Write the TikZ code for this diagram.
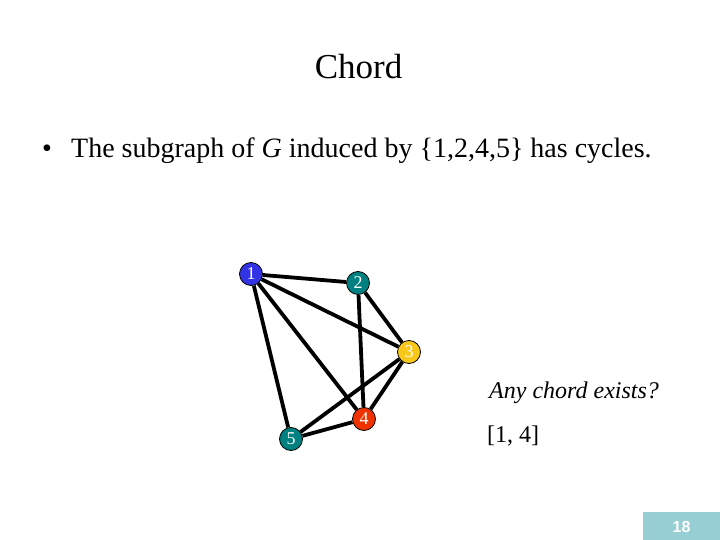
\documentclass[tikz,border=0pt]{standalone}
\usepackage{fontspec}
\setmainfont{Liberation Serif}
\setsansfont{Liberation Sans}
\definecolor{nblue}{RGB}{51,51,230}
\definecolor{nteal}{RGB}{0,128,128}
\definecolor{ngold}{RGB}{247,200,26}
\definecolor{nred}{RGB}{238,51,0}
\definecolor{pagebox}{RGB}{150,206,212}
\tikzset{
  vtx/.style={circle, draw=black, line width=0.8pt, minimum size=23pt, inner sep=0pt, text=white, font=\fontsize{18}{18}\selectfont},
  edge/.style={line width=3.8pt, black},
}
\begin{document}
\begin{tikzpicture}[x=1pt,y=-1pt]
\useasboundingbox[fill=white] (0,0) rectangle (720,540);
\node[anchor=base, font=\fontsize{35}{35}\selectfont] (title) at (358.5,79) {Chord};
\node[anchor=base west, font=\fontsize{28}{28}\selectfont, inner sep=0pt] (bul) at (42,158) {•};
\node[anchor=base west, font=\fontsize{28}{28}\selectfont, inner sep=0pt] (txt) at (71,158) {The subgraph of \textit{G} induced by \{1,2,4,5\} has cycles.};
\node[vtx, fill=nblue] (n1) at (251,274) {1};
\node[vtx, fill=nteal] (n2) at (358,283) {2};
\node[vtx, fill=ngold] (n3) at (409,352) {3};
\node[vtx, fill=nred] (n4) at (364,419) {4};
\node[vtx, fill=nteal] (n5) at (291,439) {5};
\draw[edge] (n1) -- (n2);
\draw[edge] (n1) -- (n3);
\draw[edge] (n1) -- (n4);
\draw[edge] (n1) -- (n5);
\draw[edge] (n2) -- (n3);
\draw[edge] (n2) -- (n4);
\draw[edge] (n3) -- (n4);
\draw[edge] (n3) -- (n5);
\draw[edge] (n4) -- (n5);
\node[anchor=base west, font=\itshape\fontsize{24}{24}\selectfont, inner sep=0pt] (q) at (489,398) {Any chord exists?};
\node[anchor=base west, font=\fontsize{24}{24}\selectfont, inner sep=0pt] (a) at (487,442) {[1, 4]};
\fill[pagebox] (643,512) rectangle (720,540);
\node[font=\sffamily\bfseries\fontsize{16}{16}\selectfont, text=white] (pg) at (681.5,526.5) {18};
\end{tikzpicture}
\end{document}
